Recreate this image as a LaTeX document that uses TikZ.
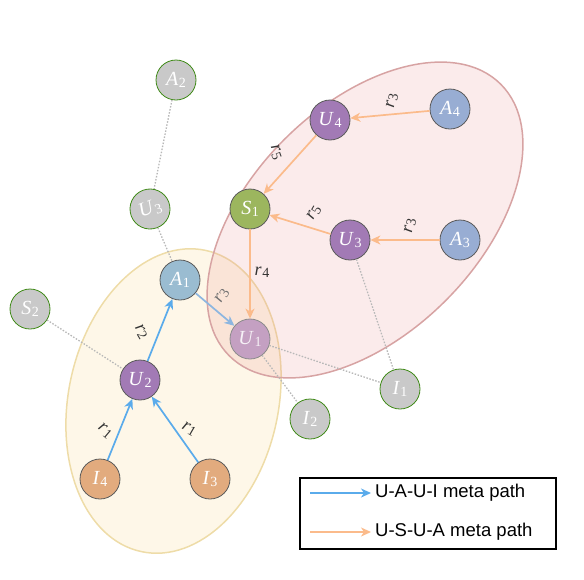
\documentclass[tikz,border=0pt]{standalone}
\usepackage{fontspec}
\newfontfamily\legendfont{Liberation Sans}
\newfontfamily\labelfont{Liberation Serif}
\usetikzlibrary{arrows.meta}
\definecolor{upurple}{HTML}{A27AB5}
\definecolor{ufade}{HTML}{C4A0C2}
\definecolor{aone}{HTML}{9ABCD1}
\definecolor{atwo}{HTML}{98ADD3}
\definecolor{sgreen}{HTML}{9CB65E}
\definecolor{iorange}{HTML}{E2AB7E}
\definecolor{ghostgray}{HTML}{C9C9C9}
\definecolor{ghostline}{HTML}{3F8A17}
\definecolor{entline}{HTML}{5A5A5A}
\definecolor{relgray}{HTML}{333333}
\definecolor{linkgray}{HTML}{B8B8B8}
\definecolor{blueline}{HTML}{5AABEB}
\definecolor{bluefade}{HTML}{8DB6E0}
\definecolor{orangeline}{HTML}{FBBB8B}
\definecolor{redzone}{HTML}{E88E8E}
\definecolor{redrim}{HTML}{D7A3A3}
\definecolor{yellowzone}{HTML}{F9D98A}
\definecolor{yellowrim}{HTML}{EEDCA8}
% entity symbol: italic letter, upright index
\newcommand\sym[2]{\textit{#1}\kern0.5pt\raisebox{-0.25ex}{\fontsize{14}{14}\selectfont #2}}
\begin{document}
\begin{tikzpicture}[x=1pt,y=-1pt,
  every node/.style={font=\labelfont\fontsize{20}{20}\selectfont},
  ent/.style={circle,draw=entline,line width=0.8pt,minimum size=40pt,inner sep=0pt,text=white},
  user/.style={ent,fill=upurple},
  userfade/.style={ent,fill=ufade,draw=entline!70,text=white!85!ufade},
  author/.style={ent,fill=atwo},
  subj/.style={ent,fill=sgreen},
  item/.style={ent,fill=iorange},
  ghost/.style={ent,fill=ghostgray,draw=ghostline},
  rel/.style={text=relgray,font=\labelfont\fontsize{18}{18}\selectfont,inner sep=0pt},
  link/.style={draw=linkgray,line width=1.3pt,dash pattern=on 1.5pt off 1.6pt},
  pathA/.style={draw=blueline,line width=1.7pt,-{Stealth[length=10pt,width=9pt,inset=3pt]}},
  pathB/.style={draw=orangeline,line width=1.7pt,-{Stealth[length=10pt,width=9pt,inset=3pt]}},
  legtext/.style={font=\legendfont\fontsize{18.5}{18.5}\selectfont,anchor=west,inner sep=4pt}]
  \useasboundingbox (0,0) rectangle (584,579);
  % the two meta path regions
  \draw[yellowrim,line width=1.5pt,fill=yellowzone,fill opacity=0.2,rotate around={-12:(173.5,401)}]
    (173.5,401) ellipse [x radius=105pt,y radius=154pt];
  \draw[redrim,line width=1.5pt,fill=redzone,fill opacity=0.18,rotate around={45:(365,220)}]
    (365,220) ellipse [x radius=192pt,y radius=114pt];
  % entities
  \node[ghost] (A2) at (176,80) {\sym{A}{2}};
  \node[ghost,rotate=20] (U3g) at (150,209) {\sym{U}{3}};
  \node[ghost] (S2) at (30,309) {\sym{S}{2}};
  \node[ghost] (I2) at (310,419) {\sym{I}{2}};
  \node[ghost] (I1) at (400,389) {\sym{I}{1}};
  \node[ent,fill=aone] (A1) at (180,280) {\sym{A}{1}};
  \node[user] (U2) at (140,380) {\sym{U}{2}};
  \node[item] (I4) at (100,479) {\sym{I}{4}};
  \node[item] (I3) at (210,479) {\sym{I}{3}};
  \node[userfade] (U1) at (250,339) {\sym{U}{1}};
  \node[subj] (S1) at (250,209) {\sym{S}{1}};
  \node[user] (U4) at (330,120) {\sym{U}{4}};
  \node[author] (A4) at (450,109) {\sym{A}{4}};
  \node[user] (U3) at (350,240) {\sym{U}{3}};
  \node[author] (A3) at (460,240) {\sym{A}{3}};
  % other relations
  \draw[link] (A2) -- (U3g);
  \draw[link] (U3g) -- (A1);
  \draw[link] (S2) -- (U2);
  \draw[link] (U1) -- (I2);
  \draw[link] (U1) -- (I1);
  \draw[link] (U3) -- (I1);
  % U-A-U-I
  \draw[pathA] (I4) -- (U2);
  \draw[pathA] (I3) -- (U2);
  \draw[pathA] (U2) -- (A1);
  \draw[pathA,draw=bluefade] (A1) -- (U1);
  % U-S-U-A
  \draw[pathB] (A4) -- (U4);
  \draw[pathB] (U4) -- (S1);
  \draw[pathB] (A3) -- (U3);
  \draw[pathB] (U3) -- (S1);
  \draw[pathB] (S1) -- (U1);
  % relation labels
  \node[rel,rotate=80] (r3a) at (392,101) {\sym{r}{3}};
  \node[rel,rotate=-70] (r5a) at (276,152) {\sym{r}{5}};
  \node[rel,rotate=60] (r5b) at (314,213) {\sym{r}{5}};
  \node[rel,rotate=80] (r3b) at (410,226) {\sym{r}{3}};
  \node[rel] (r4) at (262,272) {\sym{r}{4}};
  \node[rel,rotate=60,text=relgray!70] (r3c) at (222,296) {\sym{r}{3}};
  \node[rel,rotate=-60] (r2) at (141,332) {\sym{r}{2}};
  \node[rel,rotate=-40] (r1a) at (105,431) {\sym{r}{1}};
  \node[rel,rotate=-30] (r1b) at (189,429) {\sym{r}{1}};
  % legend
  \node[draw=black,line width=1.5pt,minimum width=256pt,minimum height=71pt,inner sep=0pt] (legend) at (428,513.5) {};
  \node[legtext] (legA) at (371,493) {U-A-U-I meta path};
  \node[legtext] (legB) at (371,532) {U-S-U-A meta path};
  \coordinate (legAstart) at (310,493);
  \coordinate (legBstart) at (310,532);
  \draw[pathA,line width=1.4pt] (legAstart) -- (legA.west);
  \draw[pathB,line width=1.4pt] (legBstart) -- (legB.west);
\end{tikzpicture}
\end{document}
